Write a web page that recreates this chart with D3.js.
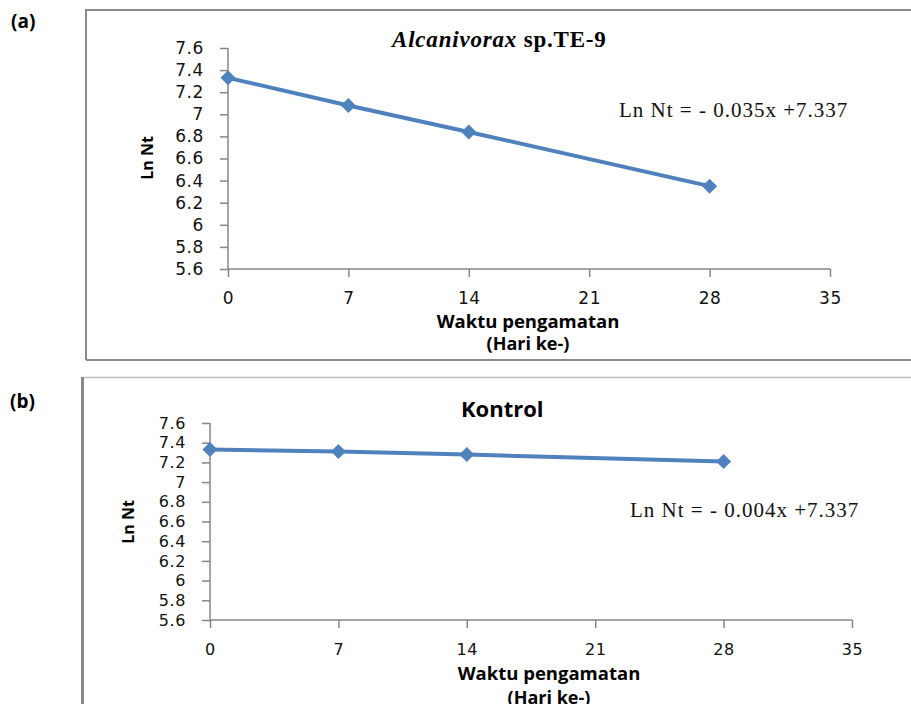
<!DOCTYPE html>
<html>
<head>
<meta charset="utf-8">
<script src="https://cdn.jsdelivr.net/npm/d3@7"></script>
<style>
  html, body { margin: 0; padding: 0; background: #fff; }
  svg { display: block; }
  .tick text { font-family: "DejaVu Sans", sans-serif; fill: #111; }
  .lbl { font-family: "Open Sans", sans-serif; font-weight: bold; fill: #000; }
  .eq { font-family: "Liberation Serif", serif; fill: #111; }
</style>
</head>
<body>
<script>
// Observation days and Ln Nt values
var days = [0, 7, 14, 28];
var lnNtAlcanivorax = [7.33, 7.08, 6.84, 6.35];
var lnNtKontrol = [7.33, 7.31, 7.28, 7.21];
var xTicks = [0, 7, 14, 21, 28, 35];
var yTicks = [5.6, 5.8, 6, 6.2, 6.4, 6.6, 6.8, 7, 7.2, 7.4, 7.6];

var W = 911, H = 704;
var blue = "#4f81bd";

var svg = d3.select("body").append("svg")
  .attr("width", W)
  .attr("height", H);

// Panel frames
svg.append("path")
  .attr("d", "M86,360 L86,10 L" + W + ",10 M86,360 L" + W + ",360")
  .attr("fill", "none").attr("stroke", "#8a8a8a").attr("stroke-width", 2);
svg.append("line")
  .attr("x1", 82).attr("y1", 377.5).attr("x2", W).attr("y2", 377.5)
  .attr("stroke", "#bdbdbd").attr("stroke-width", 1.5);
svg.append("line")
  .attr("x1", 82.5).attr("y1", 377).attr("x2", 82.5).attr("y2", H)
  .attr("stroke", "#8a8a8a").attr("stroke-width", 3);

var panels = [
  {
    tag: "(a)", tagX: 11, tagY: 28,
    values: lnNtAlcanivorax,
    x0: 228, x1: 830, y0: 269, y1: 48,
    tickSize: 17, xTickY: 304,
    yLabelX: 153, yLabelY: 158,
    xTitleX: 528, xTitleY: 328, xTitle2Y: 350,
    titleX: 392, titleY: 47, titleSize: 23,
    eq: "Ln Nt = - 0.035x +7.337", eqX: 619, eqY: 117
  },
  {
    tag: "(b)", tagX: 10, tagY: 408,
    values: lnNtKontrol,
    x0: 210, x1: 852, y0: 620, y1: 423,
    tickSize: 16, xTickY: 655,
    yLabelX: 134, yLabelY: 522,
    xTitleX: 549, xTitleY: 680, xTitle2Y: 704,
    titleX: 461, titleY: 417, titleSize: 22,
    eq: "Ln Nt = - 0.004x +7.337", eqX: 630, eqY: 517
  }
];

panels.forEach(function(p, i) {
  var g = svg.append("g");

  var x = d3.scaleLinear().domain([0, 35]).range([p.x0, p.x1]);
  var y = d3.scaleLinear().domain([5.6, 7.6]).range([p.y0, p.y1]);

  // Y axis
  var yAxis = g.append("g")
    .attr("transform", "translate(" + p.x0 + ",0)")
    .call(d3.axisLeft(y).tickValues(yTicks).tickSize(8).tickPadding(16)
      .tickFormat(function(d) { return d3.format("")(+d.toFixed(1)); }));
  yAxis.selectAll("text").attr("font-size", p.tickSize).attr("letter-spacing", 0.6);

  // X axis
  var xAxis = g.append("g")
    .attr("transform", "translate(0," + p.y0 + ")")
    .call(d3.axisBottom(x).tickValues(xTicks).tickSize(8).tickFormat(d3.format("d")));
  xAxis.selectAll("text")
    .attr("font-size", p.tickSize)
    .attr("letter-spacing", 0.6)
    .attr("dy", null)
    .attr("y", p.xTickY - p.y0);

  g.selectAll(".domain, .tick line").attr("stroke", "#868686").attr("stroke-width", 1.5);
  g.selectAll(".domain").attr("d", function() {
    return d3.select(this.parentNode).attr("transform").indexOf("translate(0") === 0
      ? "M" + p.x0 + ",0H" + p.x1
      : "M0," + p.y0 + "V" + p.y1;
  });

  // Series line and diamond markers
  var pts = days.map(function(d, k) { return [d, p.values[k]]; });
  g.append("path")
    .datum(pts)
    .attr("fill", "none")
    .attr("stroke", blue)
    .attr("stroke-width", 4)
    .attr("stroke-linejoin", "round")
    .attr("d", d3.line().x(function(d) { return x(d[0]); }).y(function(d) { return y(d[1]); }));

  g.selectAll(".mk")
    .data(pts)
    .enter().append("path")
    .attr("class", "mk")
    .attr("fill", blue)
    .attr("transform", function(d) { return "translate(" + x(d[0]) + "," + y(d[1]) + ")"; })
    .attr("d", "M0,-7.5L7.5,0L0,7.5L-7.5,0Z");

  // Labels
  g.append("text").attr("class", "lbl")
    .attr("x", p.tagX).attr("y", p.tagY)
    .attr("font-size", 19)
    .text(p.tag);

  g.append("text").attr("class", "lbl")
    .attr("transform", "translate(" + p.yLabelX + "," + p.yLabelY + ") rotate(-90)")
    .attr("text-anchor", "middle")
    .attr("font-size", 16)
    .text("Ln Nt");

  g.append("text").attr("class", "lbl")
    .attr("x", p.xTitleX).attr("y", p.xTitleY)
    .attr("text-anchor", "middle")
    .attr("font-size", 18.5)
    .text("Waktu pengamatan");
  g.append("text").attr("class", "lbl")
    .attr("x", p.xTitleX).attr("y", p.xTitle2Y)
    .attr("text-anchor", "middle")
    .attr("font-size", 18)
    .text("(Hari ke-)");

  g.append("text").attr("class", "eq")
    .attr("x", p.eqX).attr("y", p.eqY)
    .attr("font-size", 21)
    .attr("letter-spacing", 1)
    .text(p.eq);

  if (i === 0) {
    var t = g.append("text")
      .attr("x", p.titleX).attr("y", p.titleY)
      .attr("font-family", "Liberation Serif, serif")
      .attr("font-weight", "bold")
      .attr("font-size", p.titleSize)
      .attr("letter-spacing", 0.8);
    t.append("tspan").attr("font-style", "italic").text("Alcanivorax");
    t.append("tspan").text(" sp.TE-9");
  } else {
    g.append("text").attr("class", "lbl")
      .attr("x", p.titleX).attr("y", p.titleY)
      .attr("font-size", p.titleSize)
      .text("Kontrol");
  }
});
</script>
</body>
</html>
